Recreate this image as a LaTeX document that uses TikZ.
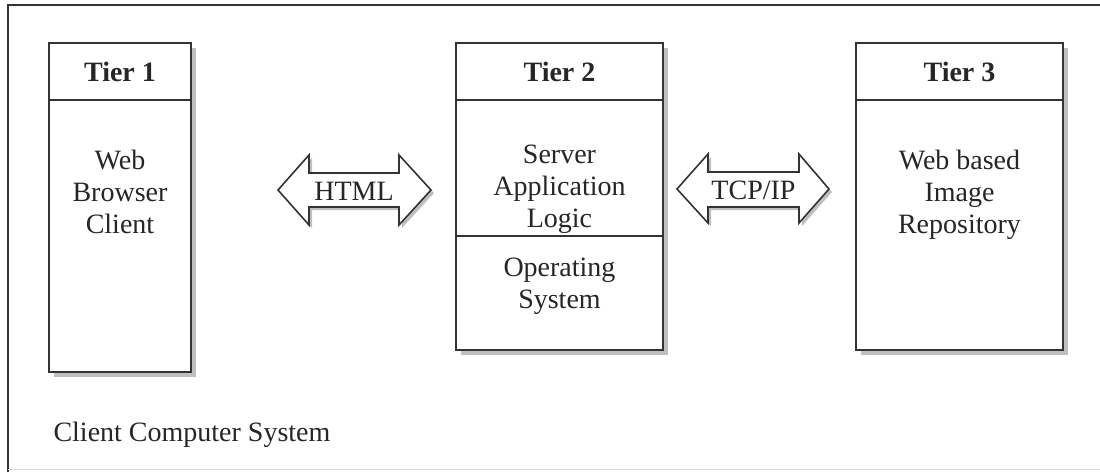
\documentclass[tikz,border=0pt]{standalone}
\usepackage{fontspec}
\setmainfont{Liberation Serif}
\begin{document}
\begin{tikzpicture}[x=1pt,y=-1pt,
  line/.style={draw=black!80,line width=1.6pt},
  shade/.style={fill=black!25},
  txt/.style={font=\fontsize{28}{32}\selectfont,align=center,text=black!85},
  head/.style={font=\fontsize{28}{32}\selectfont\bfseries,text=black!85}]
\useasboundingbox (0,0) rectangle (1100,472);
% outer frame
\draw[line] (8,472) -- (8,5) -- (1100,5);
\draw[black!15,line width=1pt] (8,469) -- (1100,469);
% shadows
\fill[shade] (54,48) rectangle (196,377);
\fill[shade] (461,48) rectangle (668,355);
\fill[shade] (861,48) rectangle (1068,355);
% tier boxes
\draw[line,fill=white] (49,43) rectangle (191,372);
\draw[line] (49,100) -- (191,100);
\draw[line,fill=white] (456,43) rectangle (663,350);
\draw[line] (456,100) -- (663,100);
\draw[line] (456,236) -- (663,236);
\draw[line,fill=white] (856,43) rectangle (1063,350);
\draw[line] (856,100) -- (1063,100);
% headers
\node[head] (h1) at (120,72) {Tier 1};
\node[head] (h2) at (559.5,72) {Tier 2};
\node[head] (h3) at (959.5,72) {Tier 3};
% body texts
\node[txt] (t1) at (120,192) {Web\\Browser\\Client};
\node[txt] (t2) at (559.5,189) {Server\\Application\\Logic};
\node[txt] (t2b) at (559.5,286) {Operating\\System};
\node[txt] (t3) at (959.5,195) {Web based\\Image\\Repository};
% arrows
\fill[shade] (281,193) -- (312,158) -- (312,176) -- (402,176) -- (402,158) -- (434,193) -- (402,228) -- (402,210) -- (312,210) -- (312,228) -- cycle;
\draw[line,fill=white,line join=miter] (278,190) -- (309,155) -- (309,173) -- (399,173) -- (399,155) -- (431,190) -- (399,225) -- (399,207) -- (309,207) -- (309,225) -- cycle;
\node[txt] (a1) at (354,191) {HTML};
\fill[shade] (680,192) -- (711,157) -- (711,175) -- (802,175) -- (802,157) -- (832,192) -- (802,226) -- (802,210) -- (711,210) -- (711,226) -- cycle;
\draw[line,fill=white,line join=miter] (677,189) -- (708,154) -- (708,172) -- (799,172) -- (799,154) -- (829,189) -- (799,223) -- (799,207) -- (708,207) -- (708,223) -- cycle;
\node[txt] (a2) at (753.5,190) {TCP/IP};
% caption
\node[txt,anchor=west] (cap) at (50,435) {Client Computer System};
\end{tikzpicture}
\end{document}
